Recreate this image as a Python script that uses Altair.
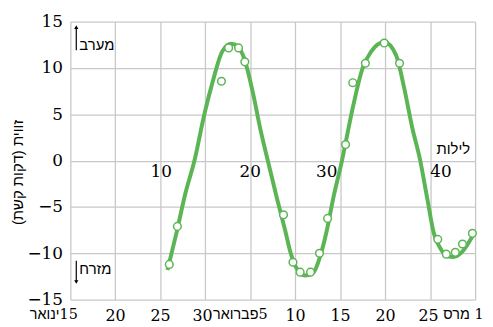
import json
import altair as alt
import pandas as pd

# ---- data (days counted from 15 January) ----
obs_day = [11.0, 11.9, 16.8, 17.6, 18.7, 19.4, 23.7, 24.75, 25.55, 26.7, 27.7, 28.6,
           30.6, 31.4, 32.8, 34.9, 36.6, 40.85, 41.8, 42.8, 43.6, 44.7]
obs_val = [-11.2, -7.1, 8.56, 12.15, 12.15, 10.65, -5.85, -10.97, -12.04, -12.04, -10.0, -6.24,
           1.73, 8.4, 10.5, 12.68, 10.5, -8.5, -10.1, -9.9, -9.0, -7.85]

fit_day = [10.8, 11.8, 12.8, 13.8, 14.9, 15.85, 16.9, 17.9, 18.6, 19.3, 20.3, 21.1, 21.95,
           23.0, 23.9, 24.5, 25.2, 26.1, 27.0, 27.75, 28.5, 29.2, 30.2, 31.4, 32.5, 33.4,
           34.9, 36.2, 37.1, 38.0, 38.9, 39.7, 40.4, 41.1, 41.9, 42.6, 43.5, 44.8]
fit_val = [-11.8, -7.8, -3.5, 0.0, 5.0, 8.6, 11.8, 12.6, 12.3, 11.1, 7.3, 3.5, 0.0,
           -4.2, -7.6, -10.0, -11.7, -12.4, -12.1, -10.4, -7.6, -4.2, 0.0, 5.7, 10.0, 11.7,
           12.8, 11.4, 7.9, 3.6, 0.0, -4.2, -7.8, -9.4, -10.3, -10.4, -9.9, -8.0]

x_ticks = [0, 5, 10, 15, 20, 25, 30, 35, 40, 45]
x_labels = ["ינואר\u200e15", "20", "25", "30", "פברואר\u200e5", "10", "15", "20", "25", "מרס\u200e 1"]
y_ticks = [-15, -10, -5, 0, 5, 10, 15]

night_text = ["10", "20", "30", "40"]
night_day = [10.1, 20.0, 28.5, 41.2]
night_val = [-1.2, -1.2, -1.2, -1.2]

note_text = ["מערב", "מזרח", "לילות"]
note_day = [1.0, 1.0, 40.7]
note_val = [12.5, -11.7, 1.2]

arrow_day = [0.66, 0.66]
arrow_tail = [11.9, -10.8]
arrow_head = [14.4, -13.1]

GREEN = "#5cb555"
SERIF = "DejaVu Serif, Liberation Sans"
SANS = "Liberation Sans"

obs = pd.DataFrame({"d": obs_day, "v": obs_val})
fit = pd.DataFrame({"d": fit_day, "v": fit_val})
nights = pd.DataFrame({"d": night_day, "v": night_val, "t": night_text})
notes = pd.DataFrame({"d": note_day, "v": note_val, "t": note_text})
arrows = pd.DataFrame({"d": arrow_day, "v": arrow_tail, "v2": arrow_head})
up_head = arrows.iloc[[0]]
down_head = arrows.iloc[[1]]

label_js = json.dumps(x_labels, ensure_ascii=False)
month_test = "datum.value == 0 || datum.value == 20 || datum.value == 45"

x_enc = alt.X(
    "d:Q",
    scale=alt.Scale(domain=[0, 45], nice=False, zero=False),
    axis=alt.Axis(
        title="",
        values=x_ticks,
        labelExpr=f"{label_js}[round(datum.value / 5)]",
        labelFont=SERIF,
        labelFontSize={"condition": {"test": month_test, "value": 14.5}, "value": 16},
        labelColor="black",
        labelPadding=8,
        labelOverlap=False,
        labelFlush=False,
        labelAlign="right",
        labelOffset={
            "condition": [
                {"test": "datum.value == 20", "value": 17},
                {"test": "datum.value == 15", "value": 7},
                {"test": "datum.value == 40", "value": 8},
                {"test": "datum.value == 45", "value": 8},
                {"test": "datum.value == 0", "value": 7},
            ],
            "value": 10,
        },
        ticks=False,
        domain=False,
        gridColor="#c8c8c8",
        gridWidth=1.3,
    ),
)
y_enc = alt.Y(
    "v:Q",
    scale=alt.Scale(domain=[-15, 15], nice=False),
    axis=alt.Axis(
        title="זווית (דקות קשת)",
        titleFont=SANS,
        titleFontSize=15,
        titleFontWeight="normal",
        titleColor="black",
        titleAngle=-90,
        titleAlign="center",
        titleBaseline="middle",
        titleX=-53,
        titleY=152,
        values=y_ticks,
        labelFont=SERIF,
        labelFontSize=17,
        labelColor="black",
        labelPadding=8,
        ticks=False,
        domain=False,
        gridColor="#c8c8c8",
        gridWidth=1.3,
    ),
)

line = alt.Chart(fit).mark_line(color=GREEN, strokeWidth=4, interpolate="monotone").encode(
    x=x_enc, y=y_enc
)
pts = alt.Chart(obs).mark_point(
    shape="circle", filled=True, fill="white", stroke=GREEN, strokeWidth=1.5, size=60, opacity=1
).encode(x="d:Q", y="v:Q")

night_lbl = alt.Chart(nights).mark_text(
    font=SERIF, fontSize=17, color="black", align="center", baseline="middle"
).encode(x="d:Q", y="v:Q", text="t:N")

note_lbl = alt.Chart(notes).mark_text(
    font=SANS, fontSize=15, color="black", align="left", baseline="middle"
).encode(x="d:Q", y="v:Q", text="t:N")

shafts = alt.Chart(arrows).mark_rule(color="black", strokeWidth=1.2).encode(
    x="d:Q", y="v:Q", y2="v2:Q"
)
head_up = alt.Chart(up_head).mark_point(
    shape="triangle-up", filled=True, color="black", size=18, opacity=1
).encode(x="d:Q", y="v2:Q")
head_down = alt.Chart(down_head).mark_point(
    shape="triangle-down", filled=True, color="black", size=18, opacity=1
).encode(x="d:Q", y="v2:Q")

chart = alt.layer(line, pts, night_lbl, note_lbl, shafts, head_up, head_down).properties(
    width=409,
    height=281,
    autosize=alt.AutoSizeParams(type="none"),
    padding={"left": 63, "top": 12, "right": 10, "bottom": 26},
).configure_view(stroke=None)

chart.save("out.html", embed_options={"renderer": "svg", "actions": False})
